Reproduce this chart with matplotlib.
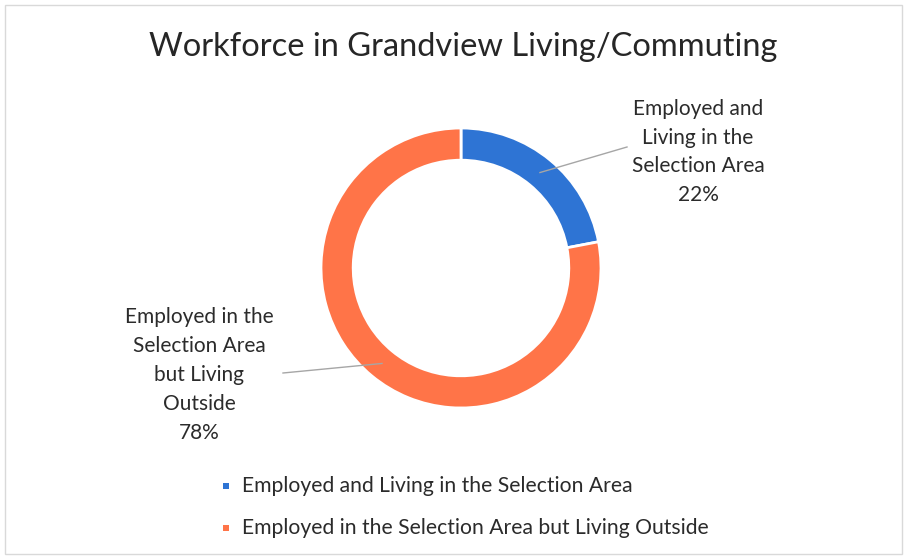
import matplotlib
matplotlib.use("Agg")
import matplotlib.pyplot as plt
from matplotlib.patches import Rectangle
import numpy as np

plt.rcParams['font.family'] = ['Lato', 'DejaVu Sans']

title = "Workforce in Grandview Living/Commuting"
categories = ["Employed and Living in the Selection Area",
              "Employed in the Selection Area but Living Outside"]
label_texts = ["Employed and\nLiving in the\nSelection Area",
               "Employed in the\nSelection Area\nbut Living\nOutside"]
values = [22, 78]
colors = ["#2E74D4", "#FF7448"]

W, H = 905, 558
fig = plt.figure(figsize=(W/100, H/100), dpi=100)
fig.patches.append(Rectangle((5/W, 4/H), 897/W, 549/H, transform=fig.transFigure,
                             fill=False, edgecolor="#d9d9d9", linewidth=1))

cx, cy, R = 461, 268, 140
ax = fig.add_axes([(cx-R)/W, (H-cy-R)/H, 2*R/W, 2*R/H])
wedges, _ = ax.pie(values, colors=colors, startangle=90, counterclock=False,
                   radius=1.0, wedgeprops=dict(width=0.23, edgecolor="white", linewidth=2))
ax.set_xlim(-1, 1); ax.set_ylim(-1, 1)
ax.set_aspect('equal')
ax.axis('off')

def px(x, y):
    return ((x-cx)/R, (cy-y)/R)

label_pos = [(698, 152), (199, 375)]
line_end = [(627, 147), (283, 373)]
total = sum(values)
start = 90
for i, v in enumerate(values):
    mid = start - v/total*360/2
    start -= v/total*360
    r = 0.885
    x0, y0 = r*np.cos(np.radians(mid)), r*np.sin(np.radians(mid))
    x1, y1 = px(*line_end[i])
    ax.plot([x0, x1], [y0, y1], color="#a6a6a6", linewidth=1, clip_on=False)
    lx, ly = label_pos[i]
    fig.text(lx/W, 1-ly/H, f"{label_texts[i]}\n{v}%", ha='center', va='center',
             fontsize=15, color="#2b2b2b", linespacing=1.56)

fig.text(463/W, 1-47/H, title, ha='center', va='center', fontsize=23.5, color="#262626")

for i, c in enumerate(categories):
    y = 1 - (486 + 42*i)/H
    fig.patches.append(Rectangle((223/W, y-3/H), 6/W, 6/H, transform=fig.transFigure,
                                 facecolor=colors[i], edgecolor='none'))
    fig.text(242/W, y, c, ha='left', va='center', fontsize=15.2, color="#2b2b2b")

fig.savefig("out.png", dpi=100)
